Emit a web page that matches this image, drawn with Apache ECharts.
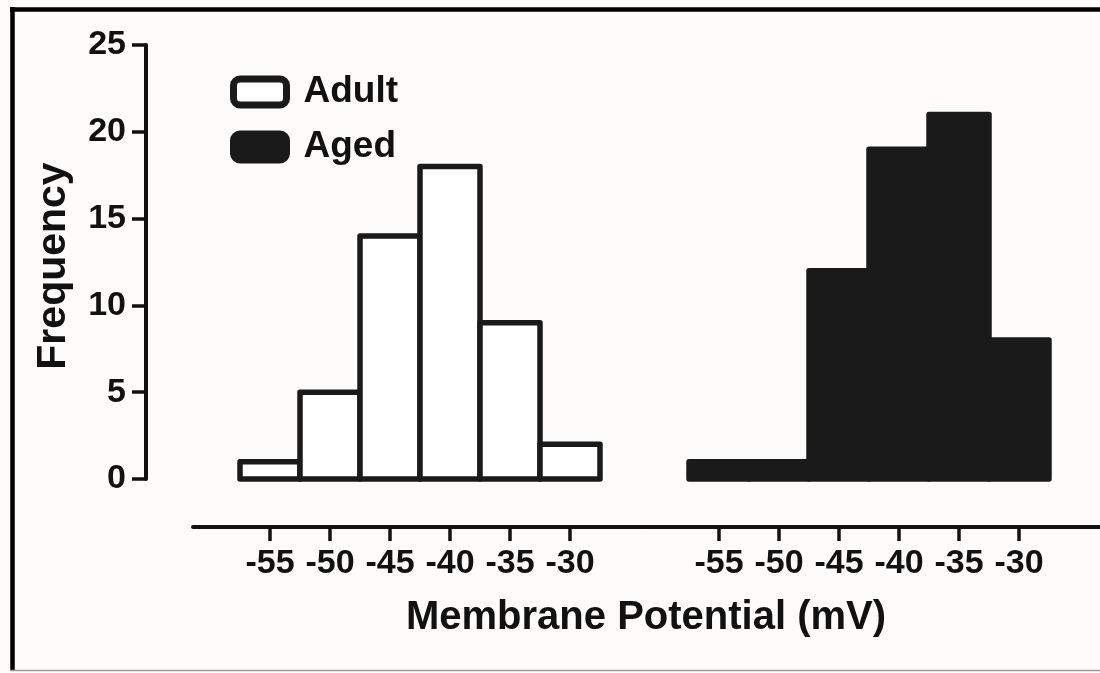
<!DOCTYPE html>
<html>
<head>
<meta charset="utf-8">
<script src="https://cdn.jsdelivr.net/npm/echarts@6/dist/echarts.min.js"></script>
<style>
html,body{margin:0;padding:0;background:#fdfcfb;}
#chart{width:1100px;height:673px;}
</style>
</head>
<body>
<div id="chart"></div>
<script>
// ---- data ----
const binCenters = [-55, -50, -45, -40, -35, -30];
const adultCounts = [1, 5, 14, 18, 9, 2];
const agedCounts = [1, 1, 12, 19, 21, 8];
const xTickValues = [-55, -50, -45, -40, -35, -30];
const yTickValues = [0, 5, 10, 15, 20, 25];
const binWidth = 5;
const seriesNames = ['Adult', 'Aged'];

// ---- styling ----
const INK = '#111111';
const BAR_INK = '#1a1a1a';
const FONT = '"Liberation Sans", Arial, Helvetica, sans-serif';
const STROKE_W = 5.5;

function makeData(counts) {
  return binCenters.map((c, i) => [c, counts[i]]);
}

function renderBar(fill) {
  return function (params, api) {
    const x = api.value(0), y = api.value(1);
    const p0 = api.coord([x - binWidth / 2, y]);
    const p1 = api.coord([x + binWidth / 2, 0]);
    return {
      type: 'rect',
      shape: { x: p0[0], y: p0[1], width: p1[0] - p0[0], height: p1[1] - p0[1] },
      style: { fill: fill, stroke: BAR_INK, lineWidth: STROKE_W, lineJoin: 'round' }
    };
  };
}

const pxPerUnit = 12;
// grid 1: x from 193 to 645, -55 at x=270
const g1Left = 193, g1Width = 452;
const x1Min = -55 - (270 - g1Left) / pxPerUnit;
const x1Max = x1Min + g1Width / pxPerUnit;
// grid 2: x from 645 to 1100, -55 at x=719
const g2Left = 645, g2Width = 455;
const x2Min = -55 - (719 - g2Left) / pxPerUnit;
const x2Max = x2Min + g2Width / pxPerUnit;

function xAxisCfg(idx, min, max) {
  return {
    type: 'value', gridIndex: idx, min: min, max: max,
    offset: 48,
    axisLine: { show: true, onZero: false, lineStyle: { color: INK, width: 4 } },
    axisTick: { show: true, length: 14, customValues: xTickValues, lineStyle: { color: INK, width: 3.5 } },
    axisLabel: { show: true, customValues: xTickValues, margin: 20, color: INK, fontSize: 34, fontWeight: 'bold', fontFamily: FONT },
    splitLine: { show: false }
  };
}

const chart = echarts.init(document.getElementById('chart'), null, { renderer: 'canvas' });
chart.setOption({
  backgroundColor: '#fdfcfb',
  animation: false,
  grid: [
    { left: g1Left, width: g1Width, top: 45, height: 434 },
    { left: g2Left, width: g2Width, top: 45, height: 434 }
  ],
  xAxis: [xAxisCfg(0, x1Min, x1Max), xAxisCfg(1, x2Min, x2Max)],
  yAxis: [
    {
      type: 'value', gridIndex: 0, min: 0, max: 25, interval: 5,
      offset: 47,
      name: 'Frequency', nameLocation: 'middle', nameRotate: 90, nameGap: 72,
      nameTextStyle: { color: INK, fontSize: 41, fontWeight: 'bold', fontFamily: FONT, padding: [0, 8, 0, 0] },
      axisLine: { show: true, lineStyle: { color: INK, width: 4 } },
      axisTick: { show: true, length: 14, lineStyle: { color: INK, width: 3.5 } },
      axisLabel: { margin: 20, color: INK, fontSize: 34, fontWeight: 'bold', fontFamily: FONT },
      splitLine: { show: false }
    },
    { type: 'value', gridIndex: 1, min: 0, max: 25, interval: 5, show: false, splitLine: { show: false } }
  ],
  legend: {
    orient: 'vertical', left: 230, top: 72, padding: 0, itemWidth: 53, itemHeight: 26, itemGap: 15,
    icon: 'roundRect',
    data: [
      { name: seriesNames[0], itemStyle: { color: '#ffffff', borderColor: BAR_INK, borderWidth: 7 } },
      { name: seriesNames[1], itemStyle: { color: BAR_INK, borderColor: BAR_INK, borderWidth: 7 } }
    ],
    textStyle: { color: INK, fontSize: 37, fontWeight: 'bold', fontFamily: FONT, lineHeight: 40, padding: [0, 0, 0, 12] },
    selectedMode: false
  },
  graphic: [
    { type: 'text', x: 646, y: 618, style: { text: 'Membrane Potential (mV)', x: 0, y: 0, align: 'center', verticalAlign: 'middle', fill: INK, font: 'bold 40px ' + FONT } },
    { type: 'line', shape: { x1: 10, y1: 9.5, x2: 1100, y2: 9.5 }, style: { stroke: '#000', lineWidth: 4.5 } },
    { type: 'line', shape: { x1: 12.5, y1: 7, x2: 12.5, y2: 671 }, style: { stroke: '#000', lineWidth: 4.5 } },
    { type: 'line', shape: { x1: 10, y1: 670.5, x2: 1100, y2: 670.5 }, style: { stroke: '#9a9a9a', lineWidth: 1.5 } }
  ],
  series: [
    {
      name: seriesNames[0], type: 'custom', xAxisIndex: 0, yAxisIndex: 0,
      itemStyle: { color: '#ffffff', borderColor: BAR_INK, borderWidth: STROKE_W },
      renderItem: renderBar('#ffffff'),
      encode: { x: 0, y: 1 },
      data: makeData(adultCounts)
    },
    {
      name: seriesNames[1], type: 'custom', xAxisIndex: 1, yAxisIndex: 1,
      itemStyle: { color: BAR_INK, borderColor: BAR_INK, borderWidth: STROKE_W },
      renderItem: renderBar(BAR_INK),
      encode: { x: 0, y: 1 },
      data: makeData(agedCounts)
    }
  ]
});
</script>
</body>
</html>
